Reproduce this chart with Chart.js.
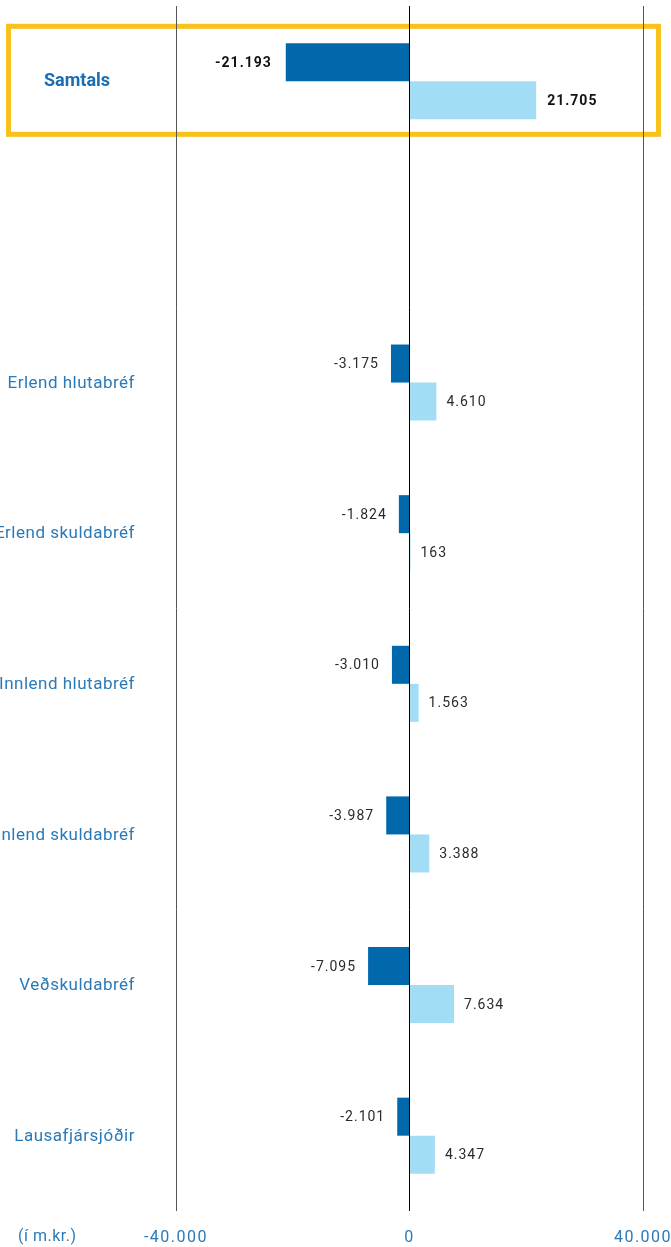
<!DOCTYPE html>
<html>
<head>
<meta charset="utf-8">
<script src="https://cdn.jsdelivr.net/npm/chart.js@4.4.1/dist/chart.umd.min.js"></script>
<style>
html,body{margin:0;padding:0;background:#fff;}
#wrap{width:671px;height:1247px;position:relative;}
</style>
</head>
<body>
<div id="wrap"><canvas id="c"></canvas></div>
<script>
const categories = ['Samtals', '', 'Erlend hlutabréf', 'Erlend skuldabréf', 'Innlend hlutabréf', 'Innlend skuldabréf', 'Veðskuldabréf', 'Lausafjársjóðir'];
const negValues = [-21193, null, -3175, -1824, -3010, -3987, -7095, -2101];
const posValues = [21705, null, 4610, 163, 1563, 3388, 7634, 4347];
const xTicks = [-40000, 0, 40000];
const unitLabel = '(í m.kr.)';

const DARK = '#0068AB';
const LIGHT = '#A2DDF5';
const BLUE_TEXT = '#2A7AB8';

function fmt(v){
  const s = Math.abs(v).toString().replace(/\B(?=(\d{3})+(?!\d))/g, '.');
  return (v < 0 ? '-' : '') + s;
}

const spacingPlugin = {
  id: 'spacing',
  beforeDraw(chart){ chart.ctx.letterSpacing = '1.5px'; }
};

const boxPlugin = {
  id: 'box',
  beforeDraw(chart){
    const ctx = chart.ctx;
    const y = chart.scales.y.getPixelForValue(0);
    ctx.save();
    ctx.strokeStyle = '#F9C11C';
    ctx.lineWidth = 5;
    ctx.strokeRect(8.5, y - 55, 650, 108);
    ctx.restore();
  }
};

const labelPlugin = {
  id: 'labels',
  afterDatasetsDraw(chart){
    const ctx = chart.ctx;
    const ys = chart.scales.y;
    ctx.save();
    ctx.textBaseline = 'middle';
    categories.forEach((c, i) => {
      if (!c) return;
      const y = ys.getPixelForValue(i);
      if (i === 0) {
        ctx.letterSpacing = '0px';
        ctx.font = 'bold 18px Roboto';
        ctx.fillStyle = '#1A6DB0';
        ctx.textAlign = 'center';
        ctx.fillText(c, 77, y);
      } else {
        ctx.letterSpacing = '0.5px';
        ctx.font = '17px Roboto';
        ctx.fillStyle = BLUE_TEXT;
        ctx.textAlign = 'right';
        ctx.fillText(c, 135, y + 1);
      }
    });
    ctx.font = '16px Roboto';
    ctx.fillStyle = BLUE_TEXT;
    ctx.textAlign = 'left';
    ctx.letterSpacing = '0.5px';
    ctx.fillText(unitLabel, 18, 1237);
    ctx.letterSpacing = '1px';
    chart.data.datasets.forEach((ds, di) => {
      const meta = chart.getDatasetMeta(di);
      meta.data.forEach((bar, i) => {
        const v = ds.data[i];
        if (v === null || v === undefined) return;
        const bold = i === 0;
        ctx.font = (bold ? 'bold 14px' : '14px') + ' Roboto';
        ctx.fillStyle = bold ? '#111' : '#2b2b2b';
        if (v < 0) {
          ctx.textAlign = 'right';
          ctx.fillText(fmt(v), bar.x - (bold ? 14 : 12), bar.y + 1);
        } else {
          ctx.textAlign = 'left';
          ctx.fillText(fmt(v), bar.x + (bold ? 11 : 10), bar.y + 1);
        }
      });
    });
    ctx.restore();
  }
};

new Chart(document.getElementById('c'), {
  type: 'bar',
  data: {
    labels: categories,
    datasets: [
      { label: 'Neikvætt', data: negValues, backgroundColor: DARK, borderWidth: 0, categoryPercentage: 0.505, barPercentage: 1.0 },
      { label: 'Jákvætt', data: posValues, backgroundColor: LIGHT, borderWidth: 0, categoryPercentage: 0.505, barPercentage: 1.0 }
    ]
  },
  options: {
    indexAxis: 'y',
    responsive: true,
    maintainAspectRatio: false,
    animation: false,
    layout: { padding: { left: 176, right: 28, top: 6, bottom: 1 } },
    plugins: { legend: { display: false }, tooltip: { enabled: false } },
    scales: {
      x: {
        min: -40000, max: 40000,
        afterBuildTicks(scale){ scale.ticks = xTicks.map(v => ({ value: v })); },
        afterFit(scale){ scale.paddingLeft = 0; scale.paddingRight = 0; scale.height = 35; },
        ticks: {
          padding: 17,
          color: BLUE_TEXT,
          font: { family: 'Roboto', size: 16 },
          maxRotation: 0,
          callback: v => fmt(v)
        },
        grid: {
          drawTicks: false,
          color: ctx => (ctx.tick && ctx.tick.value === 0) ? '#000' : '#555',
          lineWidth: 1
        },
        border: { display: false }
      },
      y: {
        display: false,
        grid: { display: false }
      }
    }
  },
  plugins: [spacingPlugin, boxPlugin, labelPlugin]
});
</script>
</body>
</html>
